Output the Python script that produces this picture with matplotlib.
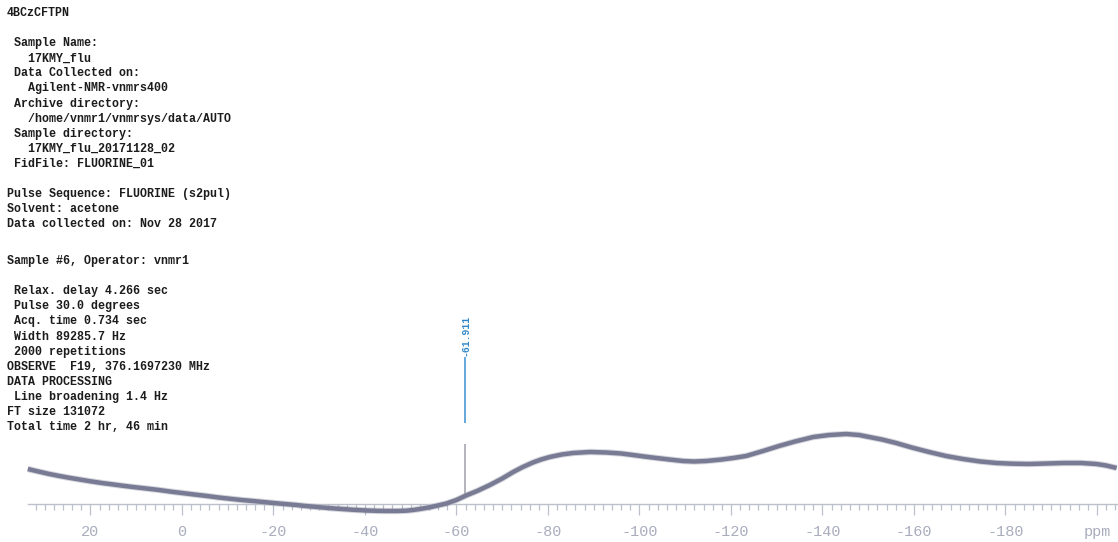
import numpy as np
import matplotlib
matplotlib.use("Agg")
import matplotlib.pyplot as plt

# 19F spectrum trace: chemical shift (ppm) and intensity (arbitrary units)
spectrum_ppm = [33.7, 31.5, 29.0, 27.0, 25.0, 22.0, 20.0, 17.5, 15.3, 13.0,
                10.7, 8.0, 5.0, 2.5, 0.0, -2.5, -5.5, -8.0, -11.0, -13.0,
                -15.5, -18.0, -20.0, -22.5, -25.0, -27.0, -29.5, -32.0, -35.0, -37.5,
                -40.4, -43.0, -45.0, -47.0, -49.0, -50.5, -52.0, -54.3, -57.8, -60.0,
                -62.1, -64.5, -67.3, -70.0, -72.4, -74.5, -76.7, -78.5, -80.4, -83.0,
                -85.5, -89.2, -92.8, -96.0, -98.6, -101.0, -103.7, -106.5, -109.5, -112.0,
                -114.6, -118.0, -120.5, -123.3, -127.0, -130.5, -134.0, -138.0, -141.5, -145.2,
                -148.0, -150.2, -153.0, -156.1, -159.5, -163.3, -167.0, -170.7, -174.5, -178.0,
                -181.5, -185.2, -189.0, -192.7, -196.5, -199.9, -202.0, -204.3]
spectrum_intensity = [35, 32.6, 30, 28.2, 26.5, 24.2, 22.7, 21, 19.7, 18.3,
                      17, 15.6, 14, 12.4, 11, 9.6, 8, 6.5, 5, 4,
                      3, 1.9, 1, 0, -1, -2, -3, -4, -5, -5.8,
                      -6.5, -6.9, -7, -7, -6.7, -6, -5, -3.2, 0.5, 4,
                      8.5, 13, 19, 25.5, 32, 37, 41.5, 44.5, 47, 49.5,
                      51, 52, 51.5, 50.5, 49, 47.5, 46, 44.5, 43, 42.5,
                      43, 44.5, 46, 48, 53, 58, 62.5, 67, 69, 70,
                      69, 67, 64.5, 61, 56.5, 52, 48, 45, 42.5, 41,
                      40.3, 40, 40.5, 41, 41, 40, 38.5, 36]

# picked peak
peak_ppm = -61.911
peak_height = 60
peak_label = "-61.911"

# axis ticks
major_ticks = [20, 0, -20, -40, -60, -80, -100, -120, -140, -160, -180, -200]
major_labels = ["20", "0", "-20", "-40", "-60", "-80", "-100", "-120", "-140",
                "-160", "-180", "ppm"]
minor_ticks = list(range(32, -205, -2))

# acquisition parameter header
header_lines = [
    "4BCzCFTPN",
    "",
    " Sample Name:",
    "   17KMY_flu",
    " Data Collected on:",
    "   Agilent-NMR-vnmrs400",
    " Archive directory:",
    "   /home/vnmr1/vnmrsys/data/AUTO",
    " Sample directory:",
    "   17KMY_flu_20171128_02",
    " FidFile: FLUORINE_01",
    "",
    "Pulse Sequence: FLUORINE (s2pul)",
    "Solvent: acetone",
    "Data collected on: Nov 28 2017",
]
param_lines = [
    "Sample #6, Operator: vnmr1",
    "",
    " Relax. delay 4.266 sec",
    " Pulse 30.0 degrees",
    " Acq. time 0.734 sec",
    " Width 89285.7 Hz",
    " 2000 repetitions",
    "OBSERVE  F19, 376.1697230 MHz",
    "DATA PROCESSING",
    " Line broadening 1.4 Hz",
    "FT size 131072",
    "Total time 2 hr, 46 min",
]

W, H = 1118, 542
fig = plt.figure(figsize=(W / 100, H / 100), dpi=100)
fig.patch.set_facecolor("white")

ax = fig.add_axes([0, 0, 1, 1])
ax.set_facecolor("none")
ax.set_xlim(39.78, -204.6)
ax.set_ylim(-38, 504)

trace_color = "#787b93"
axis_color = "#bcc0cb"
label_color = "#a9adbe"

# spectrum trace
ax.plot(spectrum_ppm, spectrum_intensity, color=trace_color, lw=4.6, alpha=0.3,
        solid_capstyle="butt", solid_joinstyle="round", zorder=2)
ax.plot(spectrum_ppm, spectrum_intensity, color=trace_color, lw=3.2,
        solid_capstyle="butt", solid_joinstyle="round", zorder=3)

# sharp peak and its label
peak_base = np.interp(peak_ppm, spectrum_ppm[::-1], spectrum_intensity[::-1])
ax.vlines(peak_ppm, peak_base, peak_height, color="#a6a7b0", lw=1.2, zorder=2)
ax.vlines(peak_ppm, 81, 147, color="#3b8fd0", lw=1.1, zorder=2)
ax.text(peak_ppm, 148, peak_label, rotation=90, ha="center", va="bottom",
        color="#2f86c8", fontsize=7, fontweight="bold", family="Liberation Mono")

# ppm axis
for side in ("left", "right", "top"):
    ax.spines[side].set_visible(False)
ax.spines["bottom"].set_position(("data", 0))
ax.spines["bottom"].set_bounds(33.7, -204.3)
ax.spines["bottom"].set_color(axis_color)
ax.spines["bottom"].set_linewidth(1.0)
ax.set_yticks([])
ax.set_xticks(major_ticks)
ax.set_xticklabels(major_labels)
ax.set_xticks(minor_ticks, minor=True)
ax.tick_params(axis="x", which="major", direction="out", length=8, width=0.9,
               color=axis_color, pad=7, labelsize=11, labelcolor=label_color)
ax.tick_params(axis="x", which="minor", direction="out", length=4.5, width=0.9,
               color=axis_color)
for lbl in ax.get_xticklabels():
    lbl.set_family("Liberation Mono")

# parameter text blocks
def put_block(lines, y0, step=15.1):
    for i, line in enumerate(lines):
        if not line:
            continue
        fig.text(7 / W, 1 - (y0 + i * step) / H, line, ha="left", va="center",
                 family="Liberation Mono", fontweight="bold", fontsize=8.35,
                 color="#1c1c1c")

put_block(header_lines, 13)
put_block(param_lines, 261)

fig.savefig("out.png", dpi=100, facecolor="white")
